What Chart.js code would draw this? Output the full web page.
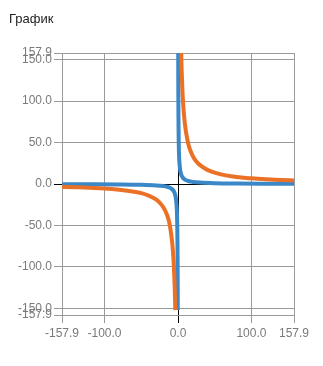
<!DOCTYPE html>
<html><head><meta charset="utf-8">
<script src="https://cdn.jsdelivr.net/npm/chart.js@4/dist/chart.umd.min.js"></script>
<style>
html,body{margin:0;padding:0;background:#fff;width:323px;height:366px;overflow:hidden}
#wrap{position:absolute;left:0;top:0;width:323px;height:366px}
#title{position:absolute;left:9px;top:11px;font:13px "Liberation Sans",Arial,sans-serif;color:#222}
</style></head><body>
<div id="wrap"><canvas id="c" width="323" height="366"></canvas></div>
<div id="title">График</div>
<script>
const xTicks = [-157.9, -100, 0, 100, 157.9];
const yTicks = [-157.9, -150, -100, -50, 0, 50, 100, 150, 157.9];

const orangeX = [-157.9,-140,-120,-100,-80,-60,-50,-40,-30,-25,-20,-15,-12,-10,-8,-7,-6,-5.2,-4.6,-4.1,-3.7,
                 0,
                 3.6,4.3,5,6,7,8.5,10,12,15,20,25,30,40,50,60,75,90,100,120,140,157.9];
const orangeY = [-3.3,-3.9,-4.6,-5.4,-7,-9.3,-11,-14,-18.5,-22.5,-28,-37,-46,-56,-70,-80,-93,-108,-122,-137,-152,
                 null,
                 189,158,136,113,97,80,68,57,45,34,27,22.7,17,13.6,11.3,9,7.6,6.8,5.7,4.9,4.3];
const blueX = [-157.9,-120,-80,-50,-30,-20,-15,-10,-7,-5,-4,-3,-2,-1.5,-1,-0.7,-0.5,-0.4,-0.33,
               0,
               0.25,0.32,0.4,0.5,0.7,1,1.5,2,3,4,5,7,10,15,20,30,50,80,120,157.9];
const blueY = [-0.3,-0.4,-0.6,-1,-1.7,-2.5,-3.3,-5,-7.1,-10,-12.5,-16.7,-25,-33,-50,-71,-100,-125,-152,
               null,
               200,157,125,100,71,50,33,25,16.7,12.5,10,7.1,5,3.3,2.5,1.7,1,0.6,0.4,0.3];

const pts = (xs, ys) => xs.map((x, i) => ({x: x, y: ys[i]}));

const GRID = '#9a9a9a';
const LABEL = '#7a7a7a';
const FONT = {family: '"Liberation Sans", Arial, sans-serif', size: 12};
const gridColor = ctx => (ctx.tick && ctx.tick.value === 0) ? '#000' : GRID;

new Chart(document.getElementById('c'), {
  type: 'scatter',
  data: {
    datasets: [
      {data: pts(orangeX, orangeY), borderColor: '#EA7125', backgroundColor: '#EA7125'},
      {data: pts(blueX, blueY), borderColor: '#3A88C8', backgroundColor: '#3A88C8'}
    ]
  },
  options: {
    responsive: false,
    animation: false,
    showLine: true,
    spanGaps: false,
    elements: {
      point: {radius: 0, hoverRadius: 0},
      line: {borderWidth: 4, cubicInterpolationMode: 'monotone', fill: false}
    },
    layout: {padding: {top: 53, right: 29, left: 0, bottom: 0}},
    plugins: {legend: {display: false}, tooltip: {enabled: false}, title: {display: false}},
    scales: {
      x: {
        type: 'linear', min: -157.9, max: 157.9,
        afterBuildTicks: s => { s.ticks = xTicks.map(v => ({value: v})); },
        afterFit: s => { s.height = 51; },
        ticks: {autoSkip: false, maxRotation: 0, minRotation: 0, padding: 3, color: LABEL, font: FONT,
                callback: v => Number(v).toFixed(1)},
        grid: {color: gridColor, tickLength: 8, lineWidth: 1},
        border: {color: GRID}
      },
      y: {
        type: 'linear', min: -157.9, max: 157.9,
        afterBuildTicks: s => { s.ticks = yTicks.map(v => ({value: v})); },
        afterFit: s => { s.width = 62; },
        ticks: {autoSkip: false, padding: 2, color: LABEL, font: FONT,
                callback: v => Number(v).toFixed(1)},
        grid: {color: gridColor, tickLength: 8, lineWidth: 1},
        border: {color: GRID}
      }
    }
  }
});
</script>
</body></html>
